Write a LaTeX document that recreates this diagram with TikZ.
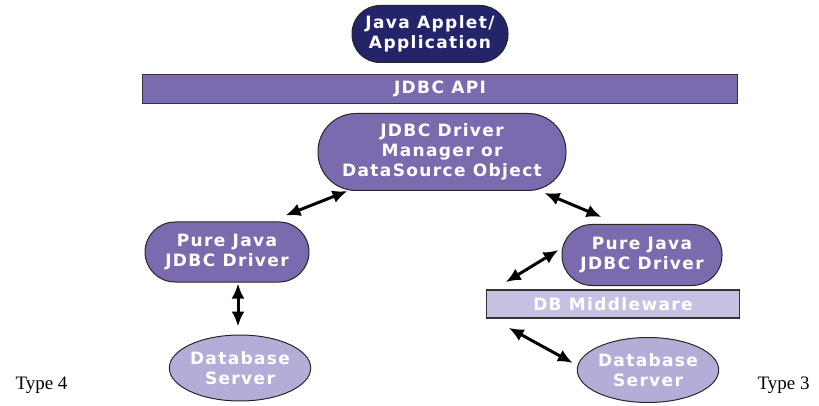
\documentclass[tikz,border=0pt]{standalone}
\usepackage{fontspec}
\setmainfont{Liberation Serif}
\newfontfamily\boxfont[LetterSpace=8]{DejaVu Sans}
\usepackage{tikz}
\usetikzlibrary{arrows.meta}
\usetikzlibrary{shapes.geometric}
\definecolor{appnavy}{HTML}{24246A}
\definecolor{drvpurple}{HTML}{7B6BAE}
\definecolor{dblilac}{HTML}{B5ADD8}
\definecolor{mwlilac}{HTML}{C6C0E2}

\begin{document}
\begin{tikzpicture}[x=1pt, y=-1pt,
    blob/.style={draw=black!85, line width=1pt, text=white, align=center,
      font=\boxfont\bfseries\fontsize{17}{20}\selectfont, inner sep=0pt},
    pill/.style={blob, rectangle, rounded corners=#1},
    bar/.style={draw=black!80, line width=1.6pt, text=white, inner sep=0pt,
      font=\boxfont\bfseries\fontsize{17}{20}\selectfont},
    biarrow/.style={{Latex[length=15pt,width=13pt]}-{Latex[length=15pt,width=13pt]},
      line width=3pt, black},
    typelabel/.style={font=\fontsize{19}{21}\selectfont, anchor=base west}]
  \useasboundingbox (0,0) rectangle (819,406);
  % Application and API
  \node[pill=28pt, fill=appnavy, minimum width=156pt, minimum height=57pt]
    (app) at (430,34) {Java Applet/\\Application};
  \node[bar, fill=drvpurple, minimum width=595pt, minimum height=29pt]
    (api) at (440,89) {JDBC API};
  % Driver manager
  \node[pill=38pt, fill=drvpurple, minimum width=248pt, minimum height=77pt]
    (mgr) at (442,152) {JDBC Driver\\Manager or\\DataSource Object};
  % Type 4 side
  \node[pill=30pt, fill=drvpurple, minimum width=164pt, minimum height=60pt]
    (ldrv) at (227,252) {Pure Java\\JDBC Driver};
  \node[blob, ellipse, fill=dblilac, minimum width=130pt, minimum height=66pt]
    (ldb) at (240,368) {Database\\Server};
  % Type 3 side
  \node[pill=30pt, fill=drvpurple, minimum width=160pt, minimum height=61pt]
    (rdrv) at (642,255) {Pure Java\\JDBC Driver};
  \node[bar, fill=mwlilac, minimum width=253pt, minimum height=28pt]
    (mw) at (613,304) {DB Middleware};
  \node[blob, ellipse, fill=dblilac, minimum width=128pt, minimum height=65pt]
    (rdb) at (648,370) {Database\\Server};
  % Arrows
  \draw[biarrow] ([shift={(-24,-6)}]ldrv.north east) -- ([shift={(30,0)}]mgr.south west);
  \draw[biarrow] ([shift={(-22,2)}]mgr.south east) -- ([shift={(40,-7)}]rdrv.north west);
  \draw[biarrow] ([shift={(11,1)}]ldrv.south) -- ([shift={(-2,-8)}]ldb.north);
  \draw[biarrow] ([shift={(20,-7)}]mw.north west) -- ([shift={(-3,-5)}]rdrv.west);
  \draw[biarrow] ([shift={(23,9)}]mw.south west) -- ([shift={(-4,-7)}]rdb.west);
  % Type labels
  \node[typelabel] (t4) at (12,389) {Type 4};
  \node[typelabel] (t3) at (754,389) {Type 3};
\end{tikzpicture}
\end{document}
